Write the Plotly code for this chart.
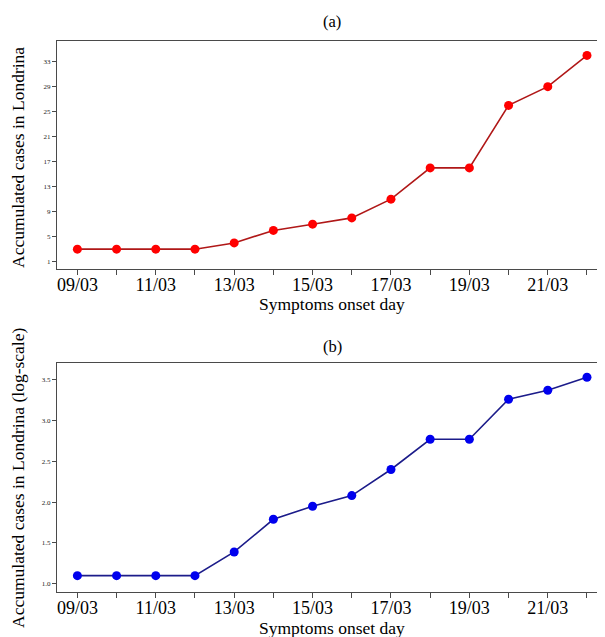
import plotly.graph_objects as go

days = ["09/03", "10/03", "11/03", "12/03", "13/03", "14/03", "15/03",
        "16/03", "17/03", "18/03", "19/03", "20/03", "21/03", "22/03"]
cases = [3, 3, 3, 3, 4, 6, 7, 8, 11, 16, 16, 26, 29, 34]
log_cases = [1.10, 1.10, 1.10, 1.10, 1.39, 1.79, 1.95, 2.08, 2.40, 2.77, 2.77, 3.26, 3.37, 3.53]
tick_text = [d if i % 2 == 0 else "" for i, d in enumerate(days)]
yticks_a = [1, 5, 9, 13, 17, 21, 25, 29, 33]
yticks_b = [1.0, 1.5, 2.0, 2.5, 3.0, 3.5]

# page has an 8px body margin; figure is sized so it fits the 605x637 window
OFF = 8
W, H = 605 - OFF, 637 - OFF
FONT = "Liberation Serif, Times New Roman, serif"
AX = "#4a4a4a"

def py(px):
    return (H - (px - OFF)) / H

def pxx(px):
    return (px - OFF) / W

fig = go.Figure()
fig.add_trace(go.Scatter(x=days, y=cases, mode="lines+markers",
                         line=dict(color="#b01818", width=1.6),
                         marker=dict(color="#ff0000", size=9),
                         xaxis="x", yaxis="y", showlegend=False))
fig.add_trace(go.Scatter(x=days, y=log_cases, mode="lines+markers",
                         line=dict(color="#1c1c8a", width=1.6),
                         marker=dict(color="#0000ee", size=9),
                         xaxis="x2", yaxis="y2", showlegend=False))

xcommon = dict(type="category", range=[-0.52, 13.46], tickmode="array",
               tickvals=days, ticktext=tick_text, ticks="outside", ticklen=5,
               tickcolor=AX, showline=True, linecolor=AX, linewidth=1.2,
               mirror=True, showgrid=False, zeroline=False,
               ticklabelstandoff=-6,
               tickfont=dict(family=FONT, size=18, color="black"),
               domain=[pxx(57), 1.0])
ycommon = dict(ticks="outside", ticklen=4, tickcolor=AX, showline=True,
               linecolor=AX, linewidth=1.2, mirror=False, showgrid=False,
               zeroline=False, tickfont=dict(family=FONT, size=7, color="#222"))

fig.update_layout(
    width=W, height=H, margin=dict(l=0, r=0, t=0, b=0),
    plot_bgcolor="white", paper_bgcolor="white",
    xaxis=dict(xcommon, anchor="y"),
    yaxis=dict(ycommon, anchor="x", range=[-0.22, 36.3], tickmode="array",
               tickvals=yticks_a, domain=[py(269.3), py(41)]),
    xaxis2=dict(xcommon, anchor="y2"),
    yaxis2=dict(ycommon, anchor="x2", range=[0.896, 3.704], tickmode="array",
                tickvals=yticks_b, tickformat=".1f", domain=[py(592.3), py(363)]),
)

cx = pxx((57 + 607) / 2)
ann = [
    ("(a)", cx, py(21), 0, 16.5),
    ("(b)", cx, py(346), 0, 16.5),
    ("Symptoms onset day", cx, py(304), 0, 17.5),
    ("Symptoms onset day", cx, py(628), 0, 17.5),
    ("Accumulated cases in Londrina", pxx(18), py(158), -90, 17.5),
    ("Accumulated cases in Londrina (log-scale)", pxx(18), py(478), -90, 17.5),
]
for text, x, y, ang, size in ann:
    fig.add_annotation(text=text, x=x, y=y, xref="paper", yref="paper",
                       xanchor="center", yanchor="middle", textangle=ang,
                       showarrow=False,
                       font=dict(family=FONT, size=size, color="black"))

fig.write_html("out.html")
